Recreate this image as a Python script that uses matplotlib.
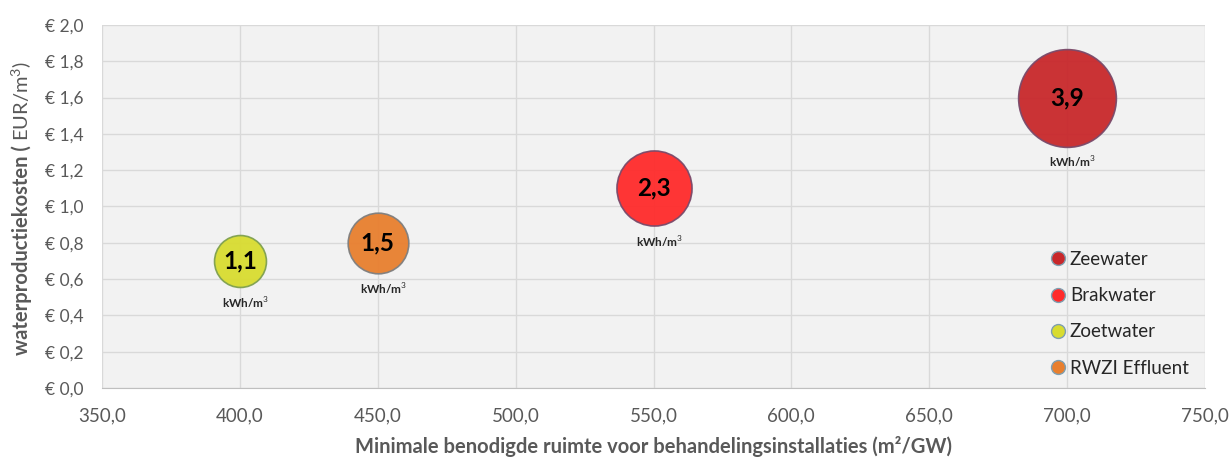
import matplotlib
matplotlib.use("Agg")
import matplotlib.pyplot as plt
from matplotlib.lines import Line2D
from matplotlib.ticker import FuncFormatter, MultipleLocator
import numpy as np

names = ["Zeewater", "Brakwater", "Zoetwater", "RWZI Effluent"]
ruimte = [700.0, 550.0, 400.0, 450.0]
kosten = [1.6, 1.1, 0.7, 0.8]
energie = [3.9, 2.3, 1.1, 1.5]
energie_labels = ["3,9", "2,3", "1,1", "1,5"]
face_colors = ["#C8282B", "#FF2B2B", "#D8DC30", "#E87F2E"]
edge_colors = ["#7A4A6A", "#7A4A6A", "#7FA050", "#7F7F7F"]
alpha = 0.95

plt.rcParams['font.family'] = ['Lato', 'DejaVu Sans']
plt.rcParams['mathtext.fontset'] = 'custom'
plt.rcParams['mathtext.rm'] = 'Lato'
plt.rcParams['mathtext.bf'] = 'Lato:bold'

W, H = 1232, 458
fig = plt.figure(figsize=(W / 100, H / 100), dpi=100)
ax = fig.add_axes([102 / W, 1 - 388 / H, (1205 - 102) / W, (388 - 25) / H])
ax.set_facecolor("#F2F2F2")

PX2_PER_UNIT = 2450.0
for x, y, e, lab, fc, ec in zip(ruimte, kosten, energie, energie_labels, face_colors, edge_colors):
    d_px = np.sqrt(PX2_PER_UNIT * e)
    s = (d_px * 0.72) ** 2
    ax.scatter([x], [y], s=s, c=fc, edgecolors=ec, linewidths=1.2, zorder=3, alpha=alpha)
    ax.text(x, y, lab, ha="center", va="center", fontsize=17.5, fontweight="bold",
            color="black", zorder=4)
    ax.annotate("kWh/m$^3$", (x, y), xytext=(4, -(d_px / 2 + 16) * 0.72),
                textcoords="offset points", ha="center", va="center",
                fontsize=8.5, fontweight="bold", color="#262626", zorder=4)

ax.set_xlim(350, 750)
ax.set_ylim(0, 2.0)
ax.xaxis.set_major_locator(MultipleLocator(50))
ax.yaxis.set_major_locator(MultipleLocator(0.2))
ax.xaxis.set_major_formatter(FuncFormatter(lambda v, p: f"{v:.1f}".replace(".", ",")))
ax.yaxis.set_major_formatter(FuncFormatter(lambda v, p: "€ " + f"{v:.1f}".replace(".", ",")))
ax.grid(True, color="#D9D9D9", linewidth=1.0, zorder=0)
ax.set_axisbelow(True)
for sp in ["top", "right", "left"]:
    ax.spines[sp].set_visible(False)
ax.spines["bottom"].set_color("#BFBFBF")
ax.tick_params(axis="both", length=0, colors="#595959")
ax.tick_params(axis="y", labelsize=12.5, pad=13)
ax.tick_params(axis="x", labelsize=13.5, pad=14)

ax.set_xlabel("Minimale benodigde ruimte voor behandelingsinstallaties (m²/GW)",
              fontsize=14.5, fontweight="bold", color="#595959", labelpad=8)

# y label: bold part + normal part, stacked vertically
fig.canvas.draw()
renderer = fig.canvas.get_renderer()
t1 = fig.text(22 / W, 1 - 355 / H, "waterproductiekosten (", rotation=90,
              ha="center", va="bottom", fontsize=14.5, fontweight="bold", color="#595959")
bb = t1.get_window_extent(renderer)
top_frac = (bb.y1 + 4) / H
t2 = fig.text(22 / W, top_frac, "EUR/m$^3$)", rotation=90, ha="center", va="bottom",
              fontsize=14.5, color="#595959")

handles = [Line2D([0], [0], marker="o", linestyle="none", markersize=10,
                  markerfacecolor=fc, markeredgecolor="#7F9FB0", markeredgewidth=1.0)
           for fc in face_colors]
leg = ax.legend(handles, names, loc="lower right", bbox_to_anchor=(1 - 5 / 1103, 0.0),
                frameon=False, fontsize=13.5, handletextpad=0.05, labelspacing=1.03,
                borderaxespad=0.2, handlelength=1.2)
for t in leg.get_texts():
    t.set_color("#262626")

fig.savefig("out.png", dpi=100, facecolor="white")
